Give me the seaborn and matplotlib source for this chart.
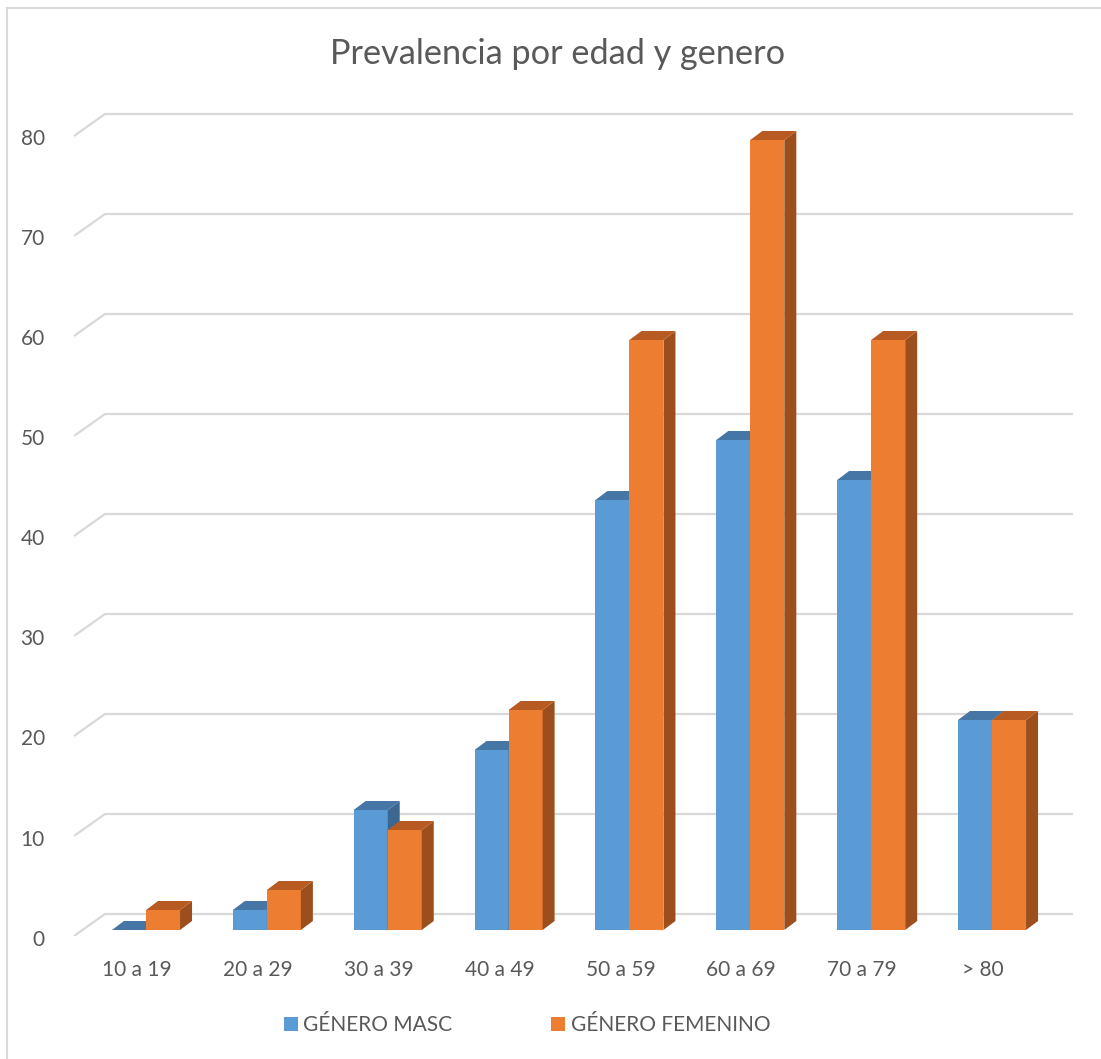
import matplotlib
matplotlib.use("Agg")
import matplotlib.pyplot as plt
from matplotlib.patches import Polygon
from matplotlib.lines import Line2D
from matplotlib.transforms import ScaledTranslation
import pandas as pd
import seaborn as sns

# ---- data -------------------------------------------------------------
categories = ["10 a 19", "20 a 29", "30 a 39", "40 a 49",
              "50 a 59", "60 a 69", "70 a 79", "> 80"]
masc = [0, 2, 12, 18, 43, 49, 45, 21]
fem = [2, 4, 10, 22, 59, 79, 59, 21]
series_names = ["GÉNERO MASC", "GÉNERO FEMENINO"]
y_ticks = [0, 10, 20, 30, 40, 50, 60, 70, 80]
title = "Prevalencia por edad y genero"

# ---- style ------------------------------------------------------------
W, H, DPI = 1101, 1059, 100
TEXT = "#595959"
GRID = "#D9D9D9"
front_cols = ["#5B9BD5", "#ED7D31"]
top_cols = ["#4676A5", "#B85B22"]
side_cols = ["#3B6792", "#9C4F1D"]

sns.set_theme(style="white")
plt.rcParams["font.family"] = ["Lato", "DejaVu Sans"]

fig = plt.figure(figsize=(W / DPI, H / DPI), dpi=DPI)

# plot area (front plane of the floor) in pixels
left_px, right_px, top_px, bot_px = 74, 1073, 110, 936
ax = fig.add_axes([left_px / W, 1 - bot_px / H,
                   (right_px - left_px) / W, (bot_px - top_px) / H])

PX = 120.86          # pixels per category step
PY = 10.0            # pixels per value unit
x0_px = 146          # centre of first group (bar front plane)
base_px = 930        # value 0 on the bar front plane
xlim = ((left_px - x0_px) / PX, (right_px - x0_px) / PX)
ylim = (-(bot_px - base_px) / PY, (base_px - top_px) / PY)

# depth offsets (data units)
bar_dx, bar_dy = 12 / PX, 9 / PY
floor_front_dy = -(bot_px - base_px) / PY
floor_back_dx = (105 - x0_px) / PX
floor_back_dy = 16 / PY

df = pd.DataFrame({
    "Edad": categories * 2,
    "Valor": masc + fem,
    "Genero": [series_names[0]] * len(categories) + [series_names[1]] * len(categories),
})

sns.barplot(data=df, x="Edad", y="Valor", hue="Genero", hue_order=series_names,
            palette=front_cols, saturation=1, width=0.563, gap=0,
            linewidth=0, edgecolor="none", legend=False, ax=ax)

ax.set_xlim(*xlim)
ax.set_ylim(*ylim)

# 3-D floor/wall gridlines
for v in y_ticks:
    ax.plot([xlim[0], floor_back_dx, xlim[1]],
            [v + floor_front_dy, v + floor_back_dy, v + floor_back_dy],
            color=GRID, lw=1.6, zorder=1, solid_capstyle="butt")

# bar faces: front from seaborn, add side and top
for s, cont in enumerate(ax.containers):
    zf = 3 + 2 * s
    for bar in cont:
        bar.set_zorder(zf)
        x, w, h = bar.get_x(), bar.get_width(), bar.get_height()
        side = Polygon([(x + w, 0), (x + w + bar_dx, bar_dy),
                        (x + w + bar_dx, h + bar_dy), (x + w, h)],
                       closed=True, facecolor=side_cols[s], edgecolor="none",
                       zorder=zf + 0.5)
        top = Polygon([(x, h), (x + w, h), (x + w + bar_dx, h + bar_dy),
                       (x + bar_dx, h + bar_dy)],
                      closed=True, facecolor=top_cols[s], edgecolor="none",
                      zorder=zf + 0.5)
        ax.add_patch(side)
        ax.add_patch(top)

# axes decoration
for sp in ax.spines.values():
    sp.set_visible(False)
ax.set_xlabel("")
ax.set_ylabel("")
ax.set_yticks(y_ticks)
ax.set_yticklabels([str(t) for t in y_ticks])
ax.set_xticks(range(len(categories)))
ax.set_xticklabels(categories)
ax.tick_params(axis="both", length=0, labelsize=15, labelcolor=TEXT)
ax.tick_params(axis="y", pad=21)
ax.tick_params(axis="x", pad=17)
for lbl in ax.get_yticklabels():
    lbl.set_transform(lbl.get_transform() + ScaledTranslation(0, -7.5 / DPI, fig.dpi_scale_trans))
for lbl in ax.get_xticklabels():
    lbl.set_transform(lbl.get_transform() + ScaledTranslation(-9 / DPI, 0, fig.dpi_scale_trans))
ax.set_facecolor("none")

# title
fig.text(558 / W, 1 - 64 / H, title, ha="center", va="baseline",
         fontsize=24.7, color=TEXT)

# legend
fig.legend(handles=list(ax.containers), labels=series_names,
           loc="center", bbox_to_anchor=(527 / W, 1 - 1025 / H), ncol=2,
           frameon=False, fontsize=15, labelcolor=TEXT,
           handlelength=0.68, handleheight=0.68, handletextpad=0.25,
           columnspacing=4.75)

# chart border
fig.add_artist(Line2D([7 / W, 7 / W], [0, 1 - 8 / H], color=GRID, lw=1.5))
fig.add_artist(Line2D([7 / W, 1], [1 - 8 / H, 1 - 8 / H], color=GRID, lw=1.5))

fig.savefig("out.png", dpi=DPI)
